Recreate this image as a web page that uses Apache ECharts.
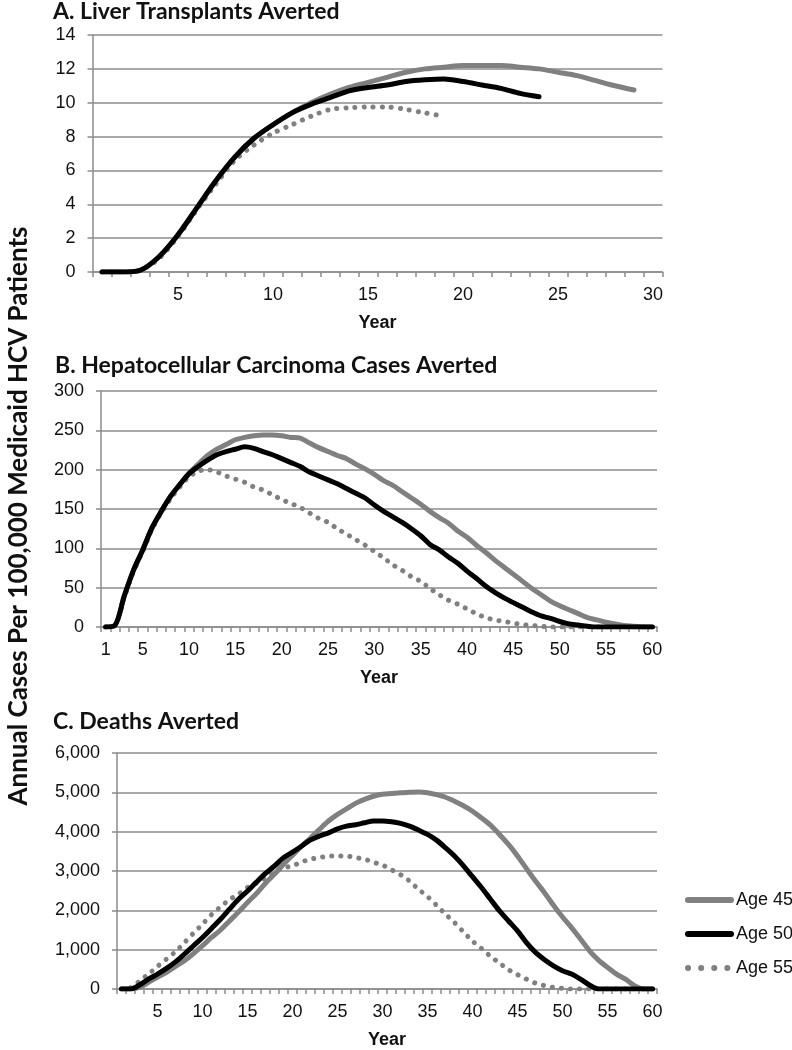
<!DOCTYPE html>
<html>
<head>
<meta charset="utf-8">
<script src="https://cdn.jsdelivr.net/npm/echarts@6/dist/echarts.min.js"></script>
<style>
html,body{margin:0;padding:0;background:#fff;}
#chart{width:792px;height:1050px;}
</style>
</head>
<body>
<div id="chart"></div>
<script>
// ---- Data ----
const panelTitles = ['A. Liver Transplants Averted', 'B. Hepatocellular Carcinoma Cases Averted', 'C. Deaths Averted'];
const yAxisTitle = 'Annual Cases Per 100,000 Medicaid HCV Patients';
const seriesNames = ['Age 45', 'Age 50', 'Age 55'];
const xAxisTitle = 'Year';

const yearsA = [1,2,3,4,5,6,7,8,9,10,11,12,13,14,15,16,17,18,19,20,21,22,23,24,25,26,27,28,29,30];
const yearsBC = [1,2,3,4,5,6,7,8,9,10,11,12,13,14,15,16,17,18,19,20,21,22,23,24,25,26,27,28,29,30,
                 31,32,33,34,35,36,37,38,39,40,41,42,43,44,45,46,47,48,49,50,51,52,53,54,55,56,57,58,59,60];

// A. Liver transplants averted
const liverAge45 = [0,0,0.1,0.9,2.2,3.8,5.4,6.8,7.9,8.7,9.4,10.0,10.5,10.9,11.2,11.5,11.8,12.0,12.1,12.2,12.2,12.2,12.1,12.0,11.8,11.6,11.3,11.0,10.75];
const liverAge50 = [0,0,0.1,0.9,2.2,3.8,5.4,6.8,7.9,8.7,9.4,9.9,10.3,10.7,10.9,11.05,11.25,11.35,11.4,11.25,11.05,10.85,10.55,10.35];
const liverAge55 = [0,0,0.1,0.8,2.1,3.7,5.2,6.6,7.5,8.2,8.7,9.2,9.6,9.7,9.75,9.75,9.6,9.4,9.2];

// B. HCC cases averted
const hccAge45 = [0,2,39,72,98,126,147,166,181,195,207,218,226,232,238,241,243,244,244,243,
                  241,240,234,228,223,218,214,207,201,194,186,180,172,164,156,147,139,132,122,114,
                  104,95,85,76,67,58,49,41,33,27,22,17,12,9,6,4,2,1,0,0];
const hccAge50 = [0,2,39,72,98,126,147,166,181,195,204,212,219,223,226,229,227,223,219,214,
                  209,204,197,192,187,182,176,170,164,155,147,140,133,125,116,105,98,89,81,71,
                  62,52,44,37,31,25,19,14,11,7,4,2.5,1,0,0,0,0,0,0,0];
const hccAge55 = [0,2,37,70,96,124,145,163,178,191,198,200,197,192,188,184,178,174,168,162,
                  157,152,145,138,133,125,118,111,104,96,88,79,72,64,58,49,41,34,29,23,
                  17,12,9,7,5,3,2,1,0,0,0,0,0,0,0,0,0,0,0,0];

// C. Deaths averted
const deathAge45 = [0,0,40,170,300,420,575,720,900,1100,1310,1500,1730,1960,2200,2430,2690,2920,3170,3400,
                    3630,3840,4060,4270,4440,4580,4720,4820,4900,4950,4970,4990,5000,5010,4990,4940,4875,4775,4660,4520,
                    4350,4165,3930,3675,3380,3060,2745,2450,2130,1830,1560,1270,970,735,550,380,250,85,0,0];
const deathAge50 = [0,0,100,250,380,525,690,890,1100,1310,1540,1775,2030,2280,2490,2720,2940,3130,3340,3480,
                    3630,3790,3890,3970,4070,4140,4175,4225,4270,4270,4250,4210,4140,4040,3930,3785,3590,3380,3130,2855,
                    2580,2280,1985,1730,1480,1180,930,745,590,465,380,250,100,0,0,0,0,0,0,0];
const deathAge55 = [0,30,200,380,575,760,950,1180,1420,1650,1890,2090,2270,2410,2580,2690,2830,2990,3080,3130,
                    3230,3300,3340,3380,3380,3380,3340,3300,3220,3150,3030,2910,2745,2535,2350,2130,1900,1690,1450,1220,
                    1030,830,660,490,365,250,150,85,40,15,0,0,0,0,0,0,0,0,0,0];

// ---- Chart ----
const GRAY = '#808080';
const BLACK = '#000000';
const GRID = '#8c8c8c';
const TITLE_FONT = 'Lato';
const AXIS_FONT = 'Liberation Sans, Arial, sans-serif';

const chart = echarts.init(document.getElementById('chart'), null, {renderer: 'canvas'});

function xAxisFor(gridIndex, cats, showFirst) {
  return {
    type: 'category', gridIndex: gridIndex, data: cats, boundaryGap: true,
    name: xAxisTitle, nameLocation: 'middle', nameGap: 42,
    nameTextStyle: {fontFamily: AXIS_FONT, fontWeight: 'bold', fontSize: 18, color: '#111'},
    axisLine: {lineStyle: {color: GRID, width: 1.5}},
    axisTick: {show: true, interval: 0, length: 5, inside: false, lineStyle: {color: GRID, width: 1.5}},
    axisLabel: {
      interval: function (idx, val) { const v = Number(val); return v % 5 === 0 || (showFirst && v === 1); },
      margin: 14, fontFamily: AXIS_FONT, fontSize: 18, color: '#111'
    },
    splitLine: {show: false}
  };
}
function yAxisFor(gridIndex, max, interval, fmt) {
  return {
    type: 'value', gridIndex: gridIndex, min: 0, max: max, interval: interval,
    axisLine: {show: true, lineStyle: {color: GRID, width: 1.5}},
    axisTick: {show: true, length: 5, lineStyle: {color: GRID, width: 1.5}},
    axisLabel: {margin: 17, fontFamily: AXIS_FONT, fontSize: 18, color: '#111', formatter: fmt},
    splitLine: {show: true, lineStyle: {color: GRID, width: 1.5}}
  };
}
function lineSeries(name, idx, data, color, dotted) {
  return {
    name: name, type: 'line', xAxisIndex: idx, yAxisIndex: idx, data: data,
    symbol: 'none', showSymbol: false, smooth: 0.3, silent: true,
    lineStyle: dotted
      ? {color: color, width: 5, type: [0.1, 9], cap: 'round'}
      : {color: color, width: 5, cap: 'round', join: 'round'},
    itemStyle: {color: color},
    z: dotted ? 3 : (color === BLACK ? 4 : 2)
  };
}

const option = {
  backgroundColor: '#fff',
  animation: false,
  title: [
    {text: panelTitles[0], left: 53, top: 0, padding: 0, textStyle: {fontFamily: TITLE_FONT, fontWeight: 'bold', fontSize: 23, color: '#111'}},
    {text: panelTitles[1], left: 55, top: 354, padding: 0, textStyle: {fontFamily: TITLE_FONT, fontWeight: 'bold', fontSize: 23, color: '#111'}},
    {text: panelTitles[2], left: 53, top: 710, padding: 0, textStyle: {fontFamily: TITLE_FONT, fontWeight: 'bold', fontSize: 23, color: '#111'}}
  ],
  graphic: [{
    type: 'text', x: 19, y: 516, rotation: Math.PI / 2,
    style: {text: yAxisTitle, fontFamily: TITLE_FONT, fontWeight: 'bold', fontSize: 26, fill: '#111',
            align: 'center', verticalAlign: 'middle'}
  }],
  legend: {
    orient: 'vertical', left: 680, top: 886, itemWidth: 43, itemHeight: 18, itemGap: 16,
    data: [
      {name: seriesNames[0], lineStyle: {color: GRAY, width: 6, cap: 'round', type: 'solid'}},
      {name: seriesNames[1], lineStyle: {color: BLACK, width: 6, cap: 'round', type: 'solid'}},
      {name: seriesNames[2], lineStyle: {color: GRAY, width: 6, cap: 'round', type: [0.1, 13]}}
    ],
    itemStyle: {opacity: 0},
    textStyle: {fontFamily: AXIS_FONT, fontSize: 18, color: '#111'}
  },
  grid: [
    {left: 92.5, top: 35, width: 570, height: 237},
    {left: 101, top: 391, width: 556, height: 236},
    {left: 117, top: 753, width: 540, height: 237}
  ],
  xAxis: [xAxisFor(0, yearsA, false), xAxisFor(1, yearsBC, true), xAxisFor(2, yearsBC, false)],
  yAxis: [
    yAxisFor(0, 14, 2),
    yAxisFor(1, 300, 50),
    yAxisFor(2, 6000, 1000, function (v) { return v.toLocaleString('en-US'); })
  ],
  series: [
    lineSeries(seriesNames[0], 0, liverAge45, GRAY, false),
    lineSeries(seriesNames[1], 0, liverAge50, BLACK, false),
    lineSeries(seriesNames[2], 0, liverAge55, GRAY, true),
    lineSeries(seriesNames[0], 1, hccAge45, GRAY, false),
    lineSeries(seriesNames[1], 1, hccAge50, BLACK, false),
    lineSeries(seriesNames[2], 1, hccAge55, GRAY, true),
    lineSeries(seriesNames[0], 2, deathAge45, GRAY, false),
    lineSeries(seriesNames[1], 2, deathAge50, BLACK, false),
    lineSeries(seriesNames[2], 2, deathAge55, GRAY, true)
  ]
};
chart.setOption(option);
</script>
</body>
</html>
